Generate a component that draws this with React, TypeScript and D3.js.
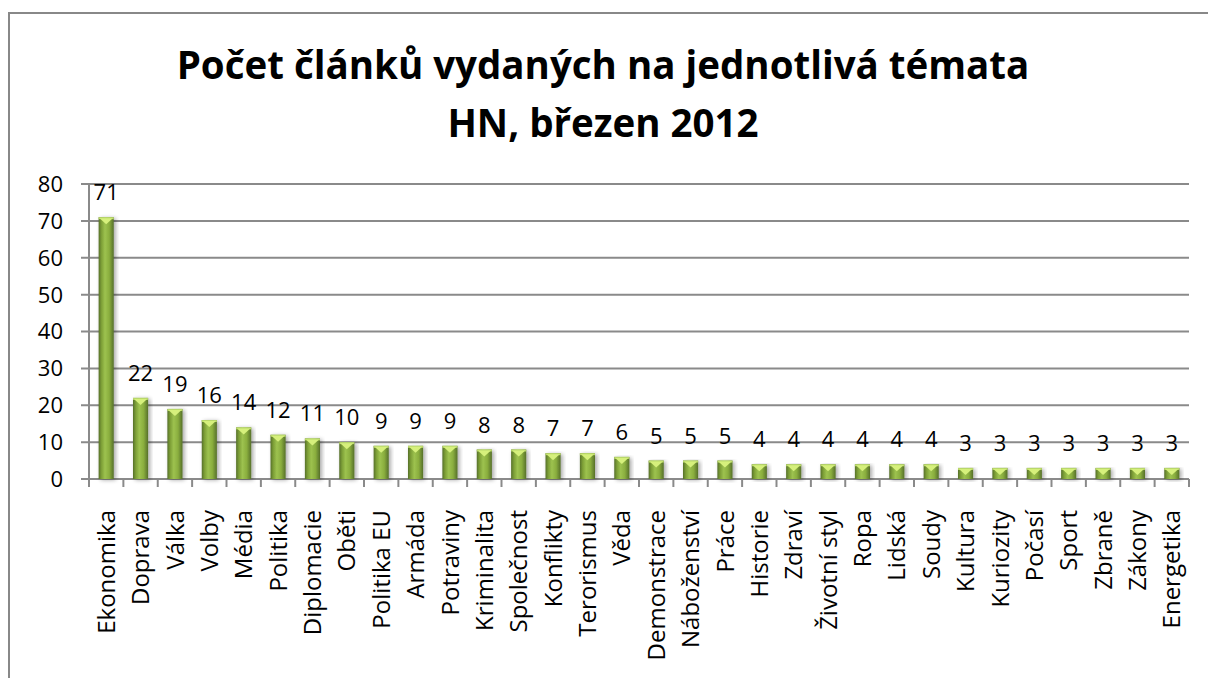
import React from 'react'
import * as d3 from 'd3'

const topics = [
  'Ekonomika', 'Doprava', 'Válka', 'Volby', 'Média', 'Politika', 'Diplomacie', 'Oběti',
  'Politika EU', 'Armáda', 'Potraviny', 'Kriminalita', 'Společnost', 'Konflikty', 'Terorismus', 'Věda',
  'Demonstrace', 'Náboženství', 'Práce', 'Historie', 'Zdraví', 'Životní styl', 'Ropa', 'Lidská',
  'Soudy', 'Kultura', 'Kuriozity', 'Počasí', 'Sport', 'Zbraně', 'Zákony', 'Energetika',
]
const counts = [71, 22, 19, 16, 14, 12, 11, 10, 9, 9, 9, 8, 8, 7, 7, 6, 5, 5, 5, 4, 4, 4, 4, 4, 4, 3, 3, 3, 3, 3, 3, 3]
const yTicks = [0, 10, 20, 30, 40, 50, 60, 70, 80]
const titleLines = ['Počet článků vydaných na jednotlivá témata', 'HN, březen 2012']

const W = 1208
const H = 678
const left = 89
const right = 1189
const top = 184
const bottom = 479
const font = '"Open Sans", sans-serif'
const grid = '#8a8a8a'

const App = () => {
  const x = d3.scaleBand().domain(topics).range([left, right]).paddingInner(0.56).paddingOuter(0.28)
  const band = d3.scaleBand().domain(topics).range([left, right])
  const y = d3.scaleLinear().domain([0, 80]).range([bottom, top])
  const bw = x.bandwidth()

  return (
    <svg width={W} height={H} style={{ position: 'absolute', left: 0, top: 0, background: '#fff' }}>
      <defs>
        <linearGradient id="barFill" x1="0" x2="1" y1="0" y2="0">
          <stop offset="0%" stopColor="#56702a" />
          <stop offset="18%" stopColor="#7c9e36" />
          <stop offset="42%" stopColor="#9dc24f" />
          <stop offset="70%" stopColor="#8aae3e" />
          <stop offset="100%" stopColor="#56702a" />
        </linearGradient>
        <filter id="shadow" x="-30%" y="-10%" width="160%" height="130%">
          <feGaussianBlur in="SourceAlpha" stdDeviation="2" />
          <feOffset dx="2" dy="1" result="b" />
          <feComponentTransfer><feFuncA type="linear" slope="0.35" /></feComponentTransfer>
          <feMerge><feMergeNode /><feMergeNode in="SourceGraphic" /></feMerge>
        </filter>
      </defs>

      <rect x={9} y={13} width={W + 20} height={H + 20} fill="none" stroke="#888" strokeWidth={2} />

      {titleLines.map((t, i) => (
        <text key={t} x={603} y={79 + i * 58} textAnchor="middle" fontFamily={font} fontWeight="bold"
          fontSize={38.5} fill="#000">{t}</text>
      ))}

      {yTicks.map(v => (
        <g key={v}>
          <line x1={left - 8} x2={right} y1={y(v)} y2={y(v)} stroke={grid} strokeWidth={2} />
          <text x={63} y={y(v)} dy="0.36em" textAnchor="end" fontFamily={font} fontSize={22} fill="#000">{v}</text>
        </g>
      ))}
      <line x1={left} x2={left} y1={top} y2={bottom} stroke={grid} strokeWidth={2} />
      {d3.range(topics.length + 1).map(i => {
        const xx = left + i * band.bandwidth()
        return <line key={i} x1={xx} x2={xx} y1={bottom} y2={bottom + 8} stroke={grid} strokeWidth={2} />
      })}

      {topics.map((t, i) => {
        const v = counts[i]
        const bx = x(t) as number
        const by = y(v)
        const bh = bottom - by
        const cap = Math.min(7, bh - 2)
        return (
          <g key={t}>
            <rect x={bx} y={by} width={bw} height={bh} fill="url(#barFill)" filter="url(#shadow)" />
            <rect x={bx} y={by} width={bw} height={2} fill="#b9d86a" />
            <polygon points={`${bx + 1},${by + 1} ${bx + bw - 1},${by + 1} ${bx + bw / 2},${by + cap}`} fill="#d6f07c" />
            <text x={bx + bw / 2} y={by - 17} textAnchor="middle" fontFamily={font} fontSize={22} fill="#000">{v}</text>
            <text transform={`translate(${(band(t) as number) + band.bandwidth() / 2},510) rotate(-90)`} dy="0.36em"
              textAnchor="end" fontFamily={font} fontSize={24} fill="#000">{t}</text>
          </g>
        )
      })}
    </svg>
  )
}

export default App
